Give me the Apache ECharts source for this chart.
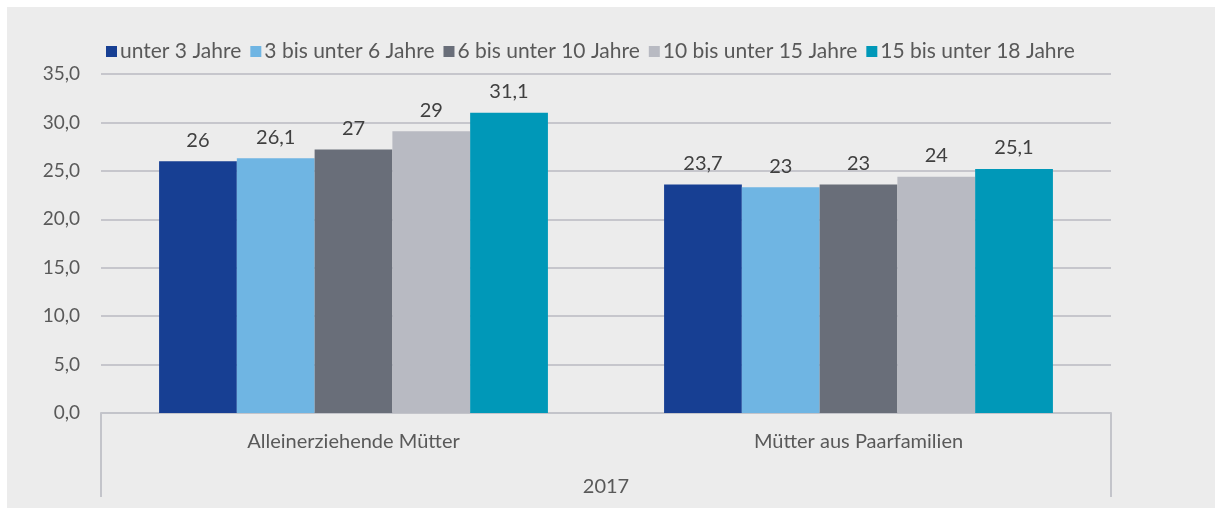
<!DOCTYPE html>
<html>
<head>
<meta charset="utf-8">
<script src="https://cdn.jsdelivr.net/npm/echarts@6/dist/echarts.min.js"></script>
<style>
  html, body { margin: 0; padding: 0; background: #fff; }
  #frame { position: absolute; left: 7px; top: 7px; width: 1208px; height: 501px; background: #ececec; }
  #chart { position: absolute; left: 0; top: 0; width: 1221px; height: 516px; }
</style>
</head>
<body>
<div id="frame"></div>
<div id="chart"></div>
<script>
const categories = ['Alleinerziehende Mütter', 'Mütter aus Paarfamilien']
const year = ['2017']
const seriesNames = ['unter 3 Jahre', '3 bis unter 6 Jahre', '6 bis unter 10 Jahre', '10 bis unter 15 Jahre', '15 bis unter 18 Jahre']
// bar heights as drawn in the picture
const under3 = [26.0, 23.6]
const from3to6 = [26.3, 23.3]
const from6to10 = [27.2, 23.6]
const from10to15 = [29.1, 24.4]
const from15to18 = [31.0, 25.2]
// value labels as printed above the bars
const labels3 = ['26', '23,7']
const labels6 = ['26,1', '23']
const labels10 = ['27', '23']
const labels15 = ['29', '24']
const labels18 = ['31,1', '25,1']

const colors = ['#173f93', '#6fb5e3', '#696e79', '#b8bac2', '#0098b8']
const FONT = 'Lato'

const chart = echarts.init(document.getElementById('chart'))

const makeSeries = (name, data, labels, color) => ({
  name: name,
  type: 'bar',
  xAxisIndex: 0,
  barGap: '0%',
  barCategoryGap: '23%',
  color: color,
  label: {
    show: true,
    position: 'top',
    distance: 11,
    color: '#404040',
    fontFamily: FONT,
    fontSize: 20,
    formatter: (p) => labels[p.dataIndex],
  },
  data: data,
})

const option = {
  animation: false,
  textStyle: { fontFamily: FONT },
  legend: {
    top: 36,
    left: 101,
    itemWidth: 11,
    itemHeight: 11,
    itemGap: 9,
    icon: 'rect',
    textStyle: { color: '#595959', fontSize: 21, fontFamily: FONT, padding: [0, 0, 0, -2] },
    data: seriesNames,
  },
  grid: { left: 101, right: 110, top: 74, bottom: 103 },
  xAxis: [
    {
      type: 'category',
      data: categories,
      axisLine: { lineStyle: { color: '#c3c4ca', width: 2 } },
      axisTick: { show: false },
      axisLabel: { color: '#595959', fontSize: 20, fontFamily: FONT, margin: 19 },
    },
    {
      type: 'category',
      position: 'bottom',
      data: year,
      axisLine: { show: false },
      axisTick: { show: true, length: 84, inside: false, lineStyle: { color: '#c3c4ca', width: 2 } },
      axisLabel: { color: '#595959', fontSize: 20, fontFamily: FONT, margin: 64 },
    },
  ],
  yAxis: {
    type: 'value',
    min: 0,
    max: 35,
    interval: 5,
    axisLine: { show: false },
    axisTick: { show: false },
    splitLine: { lineStyle: { color: '#c6c6cc', width: 2 } },
    axisLabel: {
      color: '#595959',
      fontSize: 19,
      fontFamily: FONT,
      margin: 21,
      formatter: (v) => v.toFixed(1).replace('.', ','),
    },
  },
  series: [
    makeSeries(seriesNames[0], under3, labels3, colors[0]),
    makeSeries(seriesNames[1], from3to6, labels6, colors[1]),
    makeSeries(seriesNames[2], from6to10, labels10, colors[2]),
    makeSeries(seriesNames[3], from10to15, labels15, colors[3]),
    makeSeries(seriesNames[4], from15to18, labels18, colors[4]),
  ],
}

chart.setOption(option)
</script>
</body>
</html>
